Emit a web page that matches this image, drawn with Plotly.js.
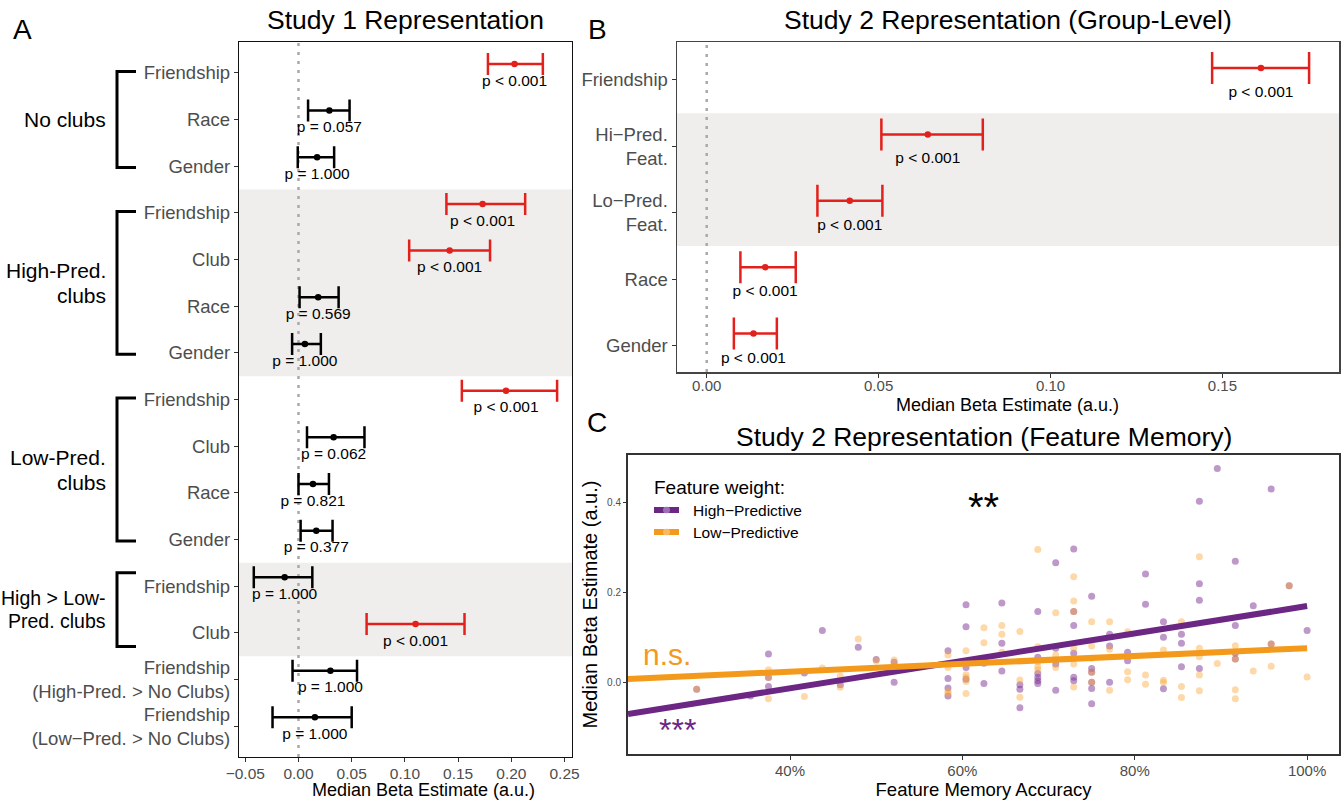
<!DOCTYPE html>
<html><head><meta charset="utf-8">
<script src="https://cdn.plot.ly/plotly-3.0.1.min.js"></script>
<style>html,body{margin:0;padding:0;background:#fff}#chart{width:1343px;height:802px}</style>
</head><body><div id="chart"></div>
<script>
// ---------------- DATA ----------------
// Panel A: Study 1 Representation
const catsA = ["Friendship","Race","Gender","Friendship","Club","Race","Gender","Friendship","Club","Race","Gender","Friendship","Club","Friendship\n(High-Pred. > No Clubs)","Friendship\n(Low\u2212Pred. > No Clubs)"];
const estA = [0.203,0.029,0.0175,0.173,0.142,0.0185,0.006,0.195,0.033,0.0136,0.0167,-0.013,0.110,0.030,0.0154];
const loA  = [0.178,0.009,-0.0007,0.139,0.104,0.001,-0.006,0.1535,0.008,0.0,0.002,-0.042,0.064,-0.0056,-0.0244];
const hiA  = [0.2296,0.048,0.0335,0.213,0.180,0.0377,0.021,0.243,0.062,0.0286,0.032,0.013,0.156,0.055,0.050];
const pA   = ["p < 0.001","p = 0.057","p = 1.000","p < 0.001","p < 0.001","p = 0.569","p = 1.000","p < 0.001","p = 0.062","p = 0.821","p = 0.377","p = 1.000","p < 0.001","p = 1.000","p = 1.000"];
const sigA = [true,false,false,true,true,false,false,true,false,false,false,false,true,false,false];
const groupLabelsA = ["No clubs","High-Pred.\nclubs","Low-Pred.\nclubs","High > Low-\nPred. clubs"];
const groupStartA = [1,4,8,12];
const groupEndA   = [3,7,11,13];
const bandsA = [[4,7],[12,13]];
const tickValsA = [-0.05,0,0.05,0.10,0.15,0.20,0.25];
const tickTextA = ["\u22120.05","0.00","0.05","0.10","0.15","0.20","0.25"];

// Panel B: Study 2 Representation (Group-Level)
const catsB = ["Friendship","Hi\u2212Pred.\nFeat.","Lo\u2212Pred.\nFeat.","Race","Gender"];
const estB = [0.1612,0.0643,0.0416,0.0170,0.0136];
const loB  = [0.1470,0.0508,0.0322,0.0098,0.0079];
const hiB  = [0.1752,0.0803,0.0511,0.0259,0.0204];
const pB   = ["p < 0.001","p < 0.001","p < 0.001","p < 0.001","p < 0.001"];
const bandsB = [[2,3]];
const tickValsB = [0,0.05,0.10,0.15];
const tickTextB = ["0.00","0.05","0.10","0.15"];

// Panel C: Study 2 Representation (Feature Memory)
const hiX = [29.17,35.42,37.5,37.5,37.5,41.67,43.75,45.83,47.92,50,52.08,52.08,
  58.33,58.33,58.33,58.33,60.42,60.42,60.42,60.42,62.5,62.5,64.58,64.58,64.58,
  66.67,66.67,66.67,68.75,68.75,68.75,68.75,68.75,68.75,70.83,70.83,70.83,70.83,
  72.92,72.92,72.92,72.92,72.92,72.92,75,75,75,75,75,75,77.08,77.08,77.08,79.17,79.17,
  81.25,81.25,83.33,83.33,83.33,85.42,85.42,85.42,87.5,87.5,87.5,87.5,89.58,
  91.67,91.67,91.67,91.67,93.75,95.83,95.83,97.92,100];
const hiY = [-0.014,-0.029,0.064,0.012,-0.008,0.022,0.116,-0.004,0.079,0.052,0.046,0.0015,
  0.071,0.010,-0.011,-0.029,0.173,0.1245,0.034,0.008,0.0435,-0.001,0.177,0.088,0.0265,
  -0.004,-0.014,-0.055,0.158,0.057,0.021,0.012,0.005,-0.001,0.266,0.077,0.042,-0.016,
  0.296,0.158,0.127,0.066,0.0125,0.005,0.192,0.032,0.024,0.0015,-0.012,-0.046,0.108,0.082,0.0015,0.068,0.049,
  0.241,0.174,0.1355,0.101,-0.0125,0.1075,0.088,0.036,0.402,0.2195,0.183,0.032,0.474,
  0.269,0.127,0.066,0.053,0.171,0.429,0.086,0.215,0.116];
const loX = [29.17,37.5,37.5,37.5,41.67,43.75,45.83,45.83,47.92,50,52.08,
  58.33,58.33,58.33,58.33,60.42,60.42,60.42,60.42,60.42,62.5,62.5,64.58,64.58,64.58,
  66.67,66.67,66.67,68.75,68.75,68.75,68.75,68.75,70.83,70.83,70.83,
  72.92,72.92,72.92,72.92,72.92,72.92,75,75,75,75,75,77.08,77.08,77.08,79.17,79.17,79.17,
  81.25,81.25,83.33,83.33,83.33,85.42,85.42,85.42,87.5,87.5,87.5,87.5,87.5,89.58,
  91.67,91.67,91.67,91.67,93.75,95.83,95.83,97.92,100];
const loY = [-0.014,0.029,0.012,-0.035,-0.030,0.033,0.0155,-0.0096,0.097,0.0486,0.051,
  0.062,0.034,-0.019,-0.023,0.071,0.018,0.012,0.003,-0.023,0.122,0.089,0.127,0.1075,0.068,
  0.114,0.0066,-0.0317,0.295,0.080,0.047,0.036,0.029,0.155,0.062,0.034,
  0.235,0.181,0.158,0.077,0.042,-0.009,0.1355,0.082,0.0545,0.024,0.0015,0.1355,0.0744,-0.016,0.113,0.025,0.007,
  0.0177,-0.003,0.073,0.006,0.001,0.1355,-0.008,-0.032,0.279,0.077,0.058,0.0177,-0.017,0.043,
  0.0825,0.053,-0.015,-0.035,0.0265,0.086,0.037,0.215,0.013];
const fitX  = [21.2,100];
const fitHi = [-0.0685,0.170];
const fitLo = [0.0088,0.077];
const tickValsC = [40,60,80,100];
const tickTextC = ["40%","60%","80%","100%"];
const yTickValsC = [0,0.2,0.4];
const yTickTextC = ["0.0","0.2","0.4"];

// ---------------- STYLE / LAYOUT ----------------
const W = 1343, H = 802;
const FONT = "Liberation Sans, Arial, Helvetica, sans-serif";
const RED = "#E3211C", BLACK = "#000000", GRAY = "#4d4d4d";
const PURPLE = "#6B2783", ORANGE = "#F39A1C";
const px = v => v / W, py = v => 1 - v / H;
const esc = s => s.replace(/&/g,'&amp;').replace(/</g,'&lt;').replace(/>/g,'&gt;').replace(/\n/g,'<br>');

const domXA = [px(239), px(572)], domYA = [py(757), py(42)], rngYA = [15.66, 0.34];
const domXB = [px(677), px(1339)], domYB = [py(372), py(42)], rngYB = [5.40, 0.428];
const domXC = [px(628), px(1339)], domYC = [py(754), py(455)];
const rowToPaperA = r => domYA[0] + (rngYA[0] - r) / (rngYA[0] - rngYA[1]) * (domYA[1] - domYA[0]);

const rowsA = catsA.map((_, i) => i + 1);
const rowsB = catsB.map((_, i) => i + 1);
const BAR_OFF = 0.19, LAB_OFF = 0.19;

function pick(arr, mask, want) { return arr.filter((_, i) => mask[i] === want); }

const traces = [];
// Panel A error bars
[true, false].forEach(s => {
  const e = pick(estA, sigA, s), lo = pick(loA, sigA, s), hi = pick(hiA, sigA, s);
  const r = pick(rowsA, sigA, s);
  const col = s ? RED : BLACK;
  traces.push({
    type: 'scatter', mode: 'markers', xaxis: 'x', yaxis: 'y',
    x: e, y: r.map(v => v - BAR_OFF),
    marker: {color: col, size: 6.5},
    error_x: {type: 'data', symmetric: false, array: hi.map((h, i) => h - e[i]), arrayminus: lo.map((l, i) => e[i] - l), color: col, thickness: 2.5, width: 11},
    showlegend: false, hoverinfo: 'skip'
  });
});
traces.push({
  type: 'scatter', mode: 'text', xaxis: 'x', yaxis: 'y',
  x: estA, y: rowsA.map(v => v + LAB_OFF), text: pA.map(esc),
  textfont: {family: FONT, size: 15.5, color: BLACK}, textposition: 'middle center',
  showlegend: false, hoverinfo: 'skip', cliponaxis: false
});
// Panel B
traces.push({
  type: 'scatter', mode: 'markers', xaxis: 'x2', yaxis: 'y2',
  x: estB, y: rowsB.map(v => v - 0.18),
  marker: {color: RED, size: 6.5},
  error_x: {type: 'data', symmetric: false, array: hiB.map((h, i) => h - estB[i]), arrayminus: loB.map((l, i) => estB[i] - l), color: RED, thickness: 2.5, width: 16},
  showlegend: false, hoverinfo: 'skip'
});
traces.push({
  type: 'scatter', mode: 'text', xaxis: 'x2', yaxis: 'y2',
  x: estB, y: rowsB.map(v => v + 0.2), text: pB.map(esc),
  textfont: {family: FONT, size: 15.5, color: BLACK}, textposition: 'middle center',
  showlegend: false, hoverinfo: 'skip', cliponaxis: false
});
// Panel C
traces.push({type: 'scatter', mode: 'markers', xaxis: 'x3', yaxis: 'y3', x: hiX, y: hiY, name: 'High\u2212Predictive',
  marker: {color: 'rgba(123,50,148,0.5)', size: 7, line: {width: 0}}, showlegend: false, hoverinfo: 'skip'});
traces.push({type: 'scatter', mode: 'markers', xaxis: 'x3', yaxis: 'y3', x: loX, y: loY, name: 'Low\u2212Predictive',
  marker: {color: 'rgba(250,165,50,0.42)', size: 7, line: {width: 0}}, showlegend: false, hoverinfo: 'skip'});
traces.push({type: 'scatter', mode: 'lines', xaxis: 'x3', yaxis: 'y3', x: fitX, y: fitHi,
  line: {color: PURPLE, width: 6}, showlegend: false, hoverinfo: 'skip'});
traces.push({type: 'scatter', mode: 'lines', xaxis: 'x3', yaxis: 'y3', x: fitX, y: fitLo,
  line: {color: ORANGE, width: 6}, showlegend: false, hoverinfo: 'skip'});

// Shapes
const shapes = [];
bandsA.forEach(b => shapes.push({type: 'rect', xref: 'x domain', yref: 'y', x0: 0, x1: 1, y0: b[0] - 0.5, y1: b[1] + 0.5, fillcolor: '#efeeec', line: {width: 0}, layer: 'below'}));
bandsB.forEach(b => shapes.push({type: 'rect', xref: 'x2 domain', yref: 'y2', x0: 0, x1: 1, y0: b[0] - 0.5, y1: b[1] + 0.5, fillcolor: '#efeeec', line: {width: 0}, layer: 'below'}));
shapes.push({type: 'line', xref: 'x', yref: 'y domain', x0: 0, x1: 0, y0: 0, y1: 1, line: {color: '#a9a9a9', width: 2.5, dash: '3px,6px'}, layer: 'below'});
shapes.push({type: 'line', xref: 'x2', yref: 'y2 domain', x0: 0, x1: 0, y0: 0, y1: 1, line: {color: '#a9a9a9', width: 2.5, dash: '3px,6px'}, layer: 'below'});
// Brackets
const bracketPad = [0.03, 0.03, 0.03, 0.29];
groupStartA.forEach((s, i) => {
  const y0 = rowToPaperA(s - bracketPad[i]), y1 = rowToPaperA(groupEndA[i] + bracketPad[i]);
  const x0 = px(117), x1 = px(136);
  shapes.push({type: 'path', xref: 'paper', yref: 'paper', path: `M ${x1} ${y0} L ${x0} ${y0} L ${x0} ${y1} L ${x1} ${y1}`, line: {color: BLACK, width: 3}});
});
// Legend for C (manual)
[[510, PURPLE, 'rgba(190,160,215,1)'], [532, ORANGE, 'rgba(252,205,150,1)']].forEach(l => {
  shapes.push({type: 'line', xref: 'paper', yref: 'paper', x0: px(654), x1: px(679), y0: py(l[0]), y1: py(l[0]), line: {color: l[1], width: 6}});
  shapes.push({type: 'circle', xref: 'paper', yref: 'paper', x0: px(663), x1: px(670), y0: py(l[0] + 3.5), y1: py(l[0] - 3.5), fillcolor: l[2], opacity: 0.6, line: {width: 0}});
});

// Annotations
const ann = [];
const A = (text, x, y, size, opt) => ann.push(Object.assign({text, x, y, xref: 'paper', yref: 'paper', showarrow: false, font: {family: FONT, size, color: BLACK}, xanchor: 'center', yanchor: 'middle'}, opt || {}));
A('A', px(22), py(29), 28);
A('B', px(597), py(29), 28);
A('C', px(597), py(423), 28);
A('Study 1 Representation', px(405.5), py(20), 26.5);
A('Study 2 Representation (Group-Level)', px(1008), py(20), 26.5);
A('Study 2 Representation (Feature Memory)', px(983.5), py(437), 26.5);
// x-axis titles of panels A and B (placed as annotations for exact placement)
A('Median Beta Estimate (a.u.)', px(423), py(790), 18);
A('Median Beta Estimate (a.u.)', px(1008), py(404.5), 18);
// group labels: one annotation per line for tighter line spacing
const groupFont = [21, 21, 21, 19.5];
groupLabelsA.forEach((g, i) => {
  const lines = g.split('\n');
  const rowsPx = H * (1 - rowToPaperA((groupStartA[i] + groupEndA[i]) / 2));
  const lh = groupFont[i] * 1.19;
  lines.forEach((ln, j) => {
    const yc = rowsPx + (j - (lines.length - 1) / 2) * lh;
    A(esc(ln), px(108), py(yc), groupFont[i], {xanchor: 'right'});
  });
});
A('Feature weight:', px(652), py(488), 19, {xanchor: 'left'});
A('High\u2212Predictive', px(691), py(510), 15.5, {xanchor: 'left'});
A('Low\u2212Predictive', px(691), py(532), 15.5, {xanchor: 'left'});
ann.push({text: 'n.s.', xref: 'x3', yref: 'y3', x: 25.7, y: 0.062, showarrow: false, font: {family: FONT, size: 30, color: ORANGE}, xanchor: 'center', yanchor: 'middle'});
ann.push({text: '***', xref: 'x3', yref: 'y3', x: 26.9, y: -0.105, showarrow: false, font: {family: FONT, size: 32, color: PURPLE}, xanchor: 'center', yanchor: 'middle'});
ann.push({text: '**', xref: 'x3', yref: 'y3', x: 62.5, y: 0.39, showarrow: false, font: {family: FONT, size: 40, color: BLACK}, xanchor: 'center', yanchor: 'middle'});

const axBase = {showgrid: false, zeroline: false, showline: true, mirror: true, ticks: 'outside', ticklen: 4, tickwidth: 1, tickcolor: '#333', fixedrange: true};
const layout = {
  width: W, height: H, margin: {l: 0, r: 0, t: 0, b: 0},
  paper_bgcolor: '#fff', plot_bgcolor: '#fff', showlegend: false, hovermode: false,
  font: {family: FONT},
  xaxis: Object.assign({}, axBase, {domain: domXA, anchor: 'y', range: [-0.0559, 0.257], tickvals: tickValsA, ticktext: tickTextA,
    linecolor: '#111', linewidth: 1.2, tickfont: {family: FONT, size: 15.5, color: GRAY}, ticklabelstandoff: -2}),
  yaxis: Object.assign({}, axBase, {domain: domYA, anchor: 'x', range: rngYA, tickvals: rowsA, ticktext: catsA.map(esc),
    linecolor: '#111', linewidth: 1.2, tickfont: {family: FONT, size: 18.5, color: GRAY}}),
  xaxis2: Object.assign({}, axBase, {domain: domXB, anchor: 'y2', range: [-0.00864, 0.1839], tickvals: tickValsB, ticktext: tickTextB,
    linecolor: '#444', linewidth: 1.5, tickfont: {family: FONT, size: 15, color: GRAY}, ticklabelstandoff: -5}),
  yaxis2: Object.assign({}, axBase, {domain: domYB, anchor: 'x2', range: rngYB, tickvals: rowsB, ticktext: catsB.map(esc),
    linecolor: '#444', linewidth: 1.5, tickfont: {family: FONT, size: 18.5, color: GRAY}}),
  xaxis3: Object.assign({}, axBase, {domain: domXC, anchor: 'y3', range: [21.2, 103.7], tickvals: tickValsC, ticktext: tickTextC,
    linecolor: '#333', linewidth: 2, tickfont: {family: FONT, size: 15, color: GRAY}, ticklabelstandoff: -2,
    title: {text: 'Feature Memory Accuracy', font: {family: FONT, size: 18.5, color: BLACK}, standoff: 2}}),
  yaxis3: Object.assign({}, axBase, {domain: domYC, anchor: 'x3', range: [-0.157, 0.504], tickvals: yTickValsC, ticktext: yTickTextC,
    linecolor: '#333', linewidth: 2, ticklen: 3, tickfont: {family: FONT, size: 10, color: GRAY},
    title: {text: 'Median Beta Estimate (a.u.)', font: {family: FONT, size: 20, color: BLACK}, standoff: 4}}),
  shapes, annotations: ann
};
Plotly.newPlot('chart', traces, layout, {staticPlot: true, displayModeBar: false});
</script></body></html>
